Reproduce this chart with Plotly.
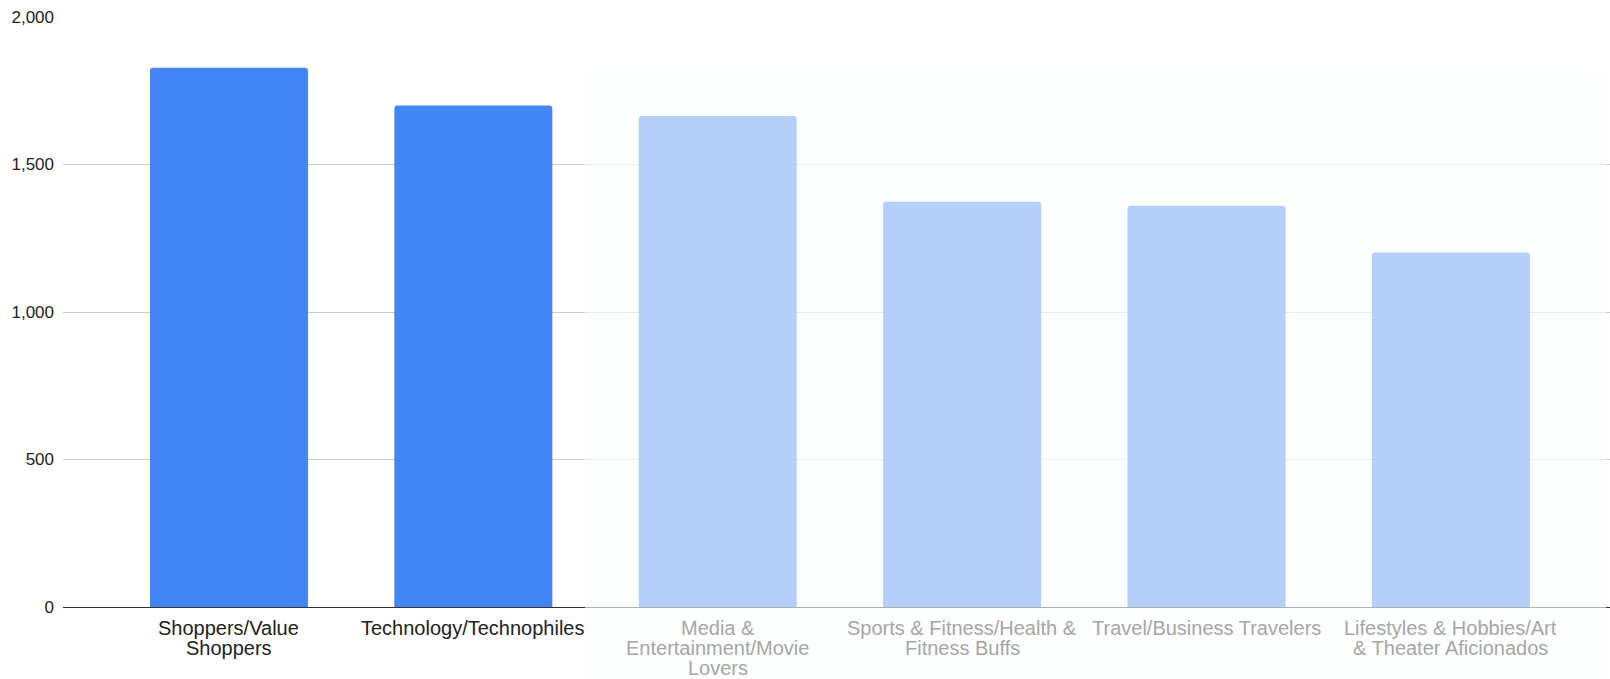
import plotly.graph_objects as go

# Audience segments and their counts
categories = [
    "Shoppers/Value Shoppers",
    "Technology/Technophiles",
    "Media & Entertainment/Movie Lovers",
    "Sports & Fitness/Health & Fitness Buffs",
    "Travel/Business Travelers",
    "Lifestyles & Hobbies/Art & Theater Aficionados",
]
label_lines = [
    ["Shoppers/Value", "Shoppers"],
    ["Technology/Technophiles"],
    ["Media &", "Entertainment/Movie", "Lovers"],
    ["Sports & Fitness/Health &", "Fitness Buffs"],
    ["Travel/Business Travelers"],
    ["Lifestyles & Hobbies/Art", "& Theater Aficionados"],
]
values = [1828, 1700, 1664, 1374, 1360, 1202]
y_ticks = [0, 500, 1000, 1500, 2000]
n_highlighted = 2  # leading segments kept in full colour

BAR_COLOR = "#4285F4"
TEXT_COLOR = "#222222"
MUTED_TEXT = "#a6a6a6"
FONT = "Liberation Sans, Arial, sans-serif"

fig = go.Figure(
    go.Bar(
        x=categories,
        y=values,
        marker=dict(color=BAR_COLOR, cornerradius=3, line=dict(width=0)),
        hoverinfo="skip",
    )
)

# Category labels, one annotation per text line
annotations = []
for i, (cat, lines) in enumerate(zip(categories, label_lines)):
    color = TEXT_COLOR if i < n_highlighted else MUTED_TEXT
    for j, line in enumerate(lines):
        annotations.append(
            dict(
                x=cat, xref="x", y=0, yref="paper",
                text=line, showarrow=False,
                xanchor="center", yanchor="middle",
                yshift=-21 - 20 * j,
                font=dict(family=FONT, size=20, color=color),
            )
        )

# Translucent veil dimming the non-highlighted segments
shapes = [
    dict(
        type="rect", xref="paper", yref="paper",
        x0=0.3374, x1=0.9974, y0=-0.13, y1=0.909,
        fillcolor="rgba(252,253,254,0.62)", line=dict(width=0),
        layer="above",
    )
]

fig.update_layout(
    width=1610,
    height=679,
    margin=dict(l=63, r=0, t=17, b=72),
    paper_bgcolor="white",
    plot_bgcolor="white",
    bargap=0.3535,
    showlegend=False,
    annotations=annotations,
    shapes=shapes,
    font=dict(family=FONT, color=TEXT_COLOR),
)
fig.update_xaxes(
    range=[-0.679, 5.651],
    showticklabels=False,
    showgrid=False,
    ticks="",
    showline=False,
    zeroline=False,
)
fig.update_yaxes(
    range=[0, 2000],
    tickvals=y_ticks,
    tickformat=",",
    tickfont=dict(family=FONT, size=17, color=TEXT_COLOR),
    showgrid=True,
    gridcolor="#cccccc",
    gridwidth=1,
    zeroline=True,
    zerolinecolor="#333333",
    zerolinewidth=1,
    ticks="",
    ticklabelstandoff=8,
    showline=False,
)

fig.write_html("out.html")
